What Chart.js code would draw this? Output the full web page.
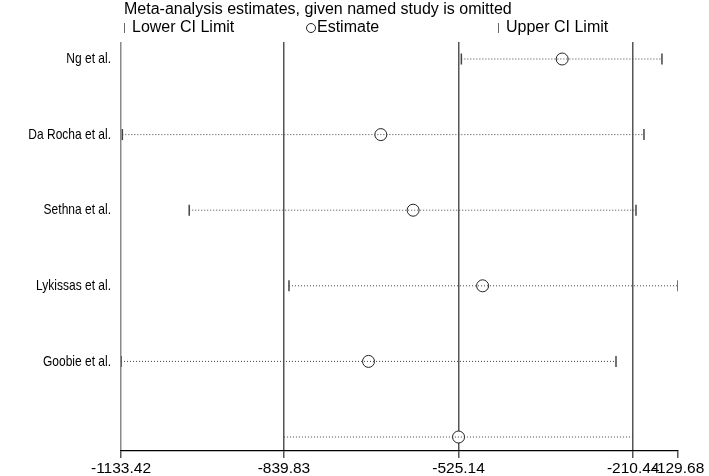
<!DOCTYPE html>
<html>
<head>
<meta charset="utf-8">
<script src="https://cdn.jsdelivr.net/npm/chart.js@4"></script>
<style>
  html, body { margin: 0; padding: 0; background: #fff; }
  #wrap { width: 709px; height: 476px; }
</style>
</head>
<body>
<div id="wrap"><canvas id="infChart"></canvas></div>
<script>
// studies (row order top to bottom), last row is the combined estimate
var studies = ['Ng et al.', 'Da Rocha et al.', 'Sethna et al.', 'Lykissas et al.', 'Goobie et al.', ''];
var lowerCI = [-520.1, -1131.0, -1010.5, -830.7, -1133.42, -839.83];
var estimate = [-338.4, -665.2, -607.0, -481.8, -687.4, -525.14];
var upperCI = [-158.6, -191.0, -205.4, -129.68, -241.4, -210.44];

var xTickValues = [-1133.42, -839.83, -525.14, -210.44, -129.68];
var xTickLabels = ['-1133.42', '-839.83', '-525.14', '-210.44', '-129.68'];

var fontFam = '"Liberation Sans", Arial, sans-serif';

var datasets = [];

// dotted CI lines, one per row
for (var i = 0; i < studies.length; i++) {
    datasets.push({
        type: 'line',
        data: [{ x: lowerCI[i], y: i + 1 }, { x: upperCI[i], y: i + 1 }],
        borderColor: '#444',
        borderWidth: 1,
        borderDash: [1, 2],
        pointRadius: 0,
        fill: false
    });
}

// CI end caps (not on the combined row)
var caps = [];
for (var j = 0; j < studies.length - 1; j++) {
    caps.push({ x: lowerCI[j], y: j + 1 });
    caps.push({ x: upperCI[j], y: j + 1 });
}
datasets.push({
    type: 'scatter',
    data: caps,
    pointStyle: 'line',
    rotation: 90,
    pointRadius: 5.5,
    borderColor: '#444',
    borderWidth: 1.5
});

// estimates
datasets.push({
    type: 'scatter',
    data: estimate.map(function (v, k) { return { x: v, y: k + 1 }; }),
    pointStyle: 'circle',
    pointRadius: 6,
    borderColor: '#222',
    borderWidth: 1,
    backgroundColor: '#fff'
});

// title, legend and the (slightly condensed) study labels
var headerPlugin = {
    id: 'header',
    afterDraw: function (chart) {
        var c = chart.ctx;
        c.save();
        c.fillStyle = '#000';
        c.textBaseline = 'middle';
        c.textAlign = 'left';
        c.font = '16px ' + fontFam;
        c.fillText('Meta-analysis estimates, given named study is omitted', 124, 10);

        c.strokeStyle = '#666';
        c.lineWidth = 1;
        c.beginPath(); c.moveTo(124.5, 23); c.lineTo(124.5, 33); c.stroke();
        c.fillText('Lower CI Limit', 132, 28);
        c.strokeStyle = '#222';
        c.beginPath(); c.arc(311, 28, 4.5, 0, Math.PI * 2); c.stroke();
        c.fillText('Estimate', 317, 28);
        c.strokeStyle = '#666';
        c.beginPath(); c.moveTo(498.5, 23); c.lineTo(498.5, 33); c.stroke();
        c.fillText('Upper CI Limit', 506, 28);

        var ys = chart.scales.y;
        var right = chart.chartArea.left - 10;
        c.font = '15px ' + fontFam;
        c.textAlign = 'right';
        studies.forEach(function (s, k) {
            if (!s) return;
            c.save();
            c.translate(right, ys.getPixelForValue(k + 1));
            c.scale(0.8, 1);
            c.fillText(s, 0, 0);
            c.restore();
        });
        c.restore();
    }
};

new Chart(document.getElementById('infChart'), {
    data: { datasets: datasets },
    plugins: [headerPlugin],
    options: {
        responsive: true,
        maintainAspectRatio: false,
        animation: false,
        layout: { padding: { top: 42, right: 31, left: 0, bottom: 0 } },
        plugins: {
            legend: { display: false },
            tooltip: { enabled: false }
        },
        scales: {
            x: {
                type: 'linear',
                min: -1133.42,
                max: -129.68,
                afterBuildTicks: function (scale) {
                    scale.ticks = xTickValues.map(function (v) { return { value: v }; });
                },
                afterFit: function (scale) { scale.height = 25; },
                ticks: {
                    autoSkip: false,
                    maxRotation: 0,
                    padding: 1,
                    color: '#000',
                    font: { size: 15.5, family: fontFam },
                    callback: function (value, index) { return xTickLabels[index]; }
                },
                grid: {
                    drawOnChartArea: true,
                    tickLength: 7,
                    lineWidth: 1.5,
                    color: function (ctx) {
                        if (ctx.index === 0) return '#8a8a8a';
                        if (ctx.index === 4) return 'rgba(0,0,0,0)';
                        return '#555';
                    },
                    tickColor: '#555'
                },
                border: { display: true, color: '#000', width: 1.2 }
            },
            y: {
                type: 'linear',
                reverse: true,
                min: 0.775,
                max: 6.185,
                afterBuildTicks: function (scale) {
                    scale.ticks = studies.map(function (s, k) { return { value: k + 1 }; });
                },
                afterFit: function (scale) { scale.width = 121; },
                ticks: { display: false },
                grid: { display: false, drawTicks: false },
                border: { display: false }
            }
        }
    }
});
</script>
</body>
</html>
